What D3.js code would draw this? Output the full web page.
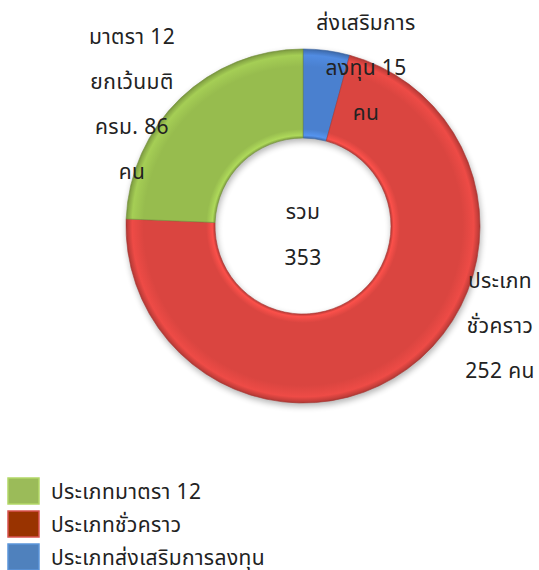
<!DOCTYPE html>
<html>
<head>
<meta charset="utf-8">
<script src="https://cdn.jsdelivr.net/npm/d3@7"></script>
<style>
  body { margin: 0; background: #fff; }
  text { font-family: Tahoma, "Noto Sans Thai", "Noto Sans", sans-serif; fill: #222; }
</style>
</head>
<body>
<div id="chart"></div>
<script>
// data
const categories = ["ประเภทส่งเสริมการลงทุน", "ประเภทชั่วคราว", "ประเภทมาตรา 12"];
const values = [15, 252, 86];
const sliceColors = ["#4a80cf", "#da4540", "#97bc4e"];
const legendNames = ["ประเภทมาตรา 12", "ประเภทชั่วคราว", "ประเภทส่งเสริมการลงทุน"];
const legendColors = ["#9bbb59", "#993300", "#4f81bd"];
const sliceLabels = [
  ["ส่งเสริมการ", "ลงทุน 15", "คน"],
  ["ประเภท", "ชั่วคราว", "252 คน"],
  ["มาตรา 12", "ยกเว้นมติ", "ครม. 86", "คน"]
];
const totalLabel = ["รวม", String(d3.sum(values))];

const width = 539, height = 570;
const cx = 303, cy = 226;
const outerR = 177, innerR = 88;

const svg = d3.select("#chart").append("svg")
  .attr("width", width)
  .attr("height", height);

const defs = svg.append("defs");

// soft shadow
const shadow = defs.append("filter").attr("id", "shadow")
  .attr("x", "-20%").attr("y", "-20%").attr("width", "140%").attr("height", "140%")
  .attr("color-interpolation-filters", "sRGB");
shadow.append("feGaussianBlur").attr("in", "SourceAlpha").attr("stdDeviation", 3);
shadow.append("feOffset").attr("dx", 1).attr("dy", 3).attr("result", "off");
shadow.append("feComponentTransfer").append("feFuncA").attr("type", "linear").attr("slope", 0.3);
const merge = shadow.append("feMerge");
merge.append("feMergeNode");
merge.append("feMergeNode").attr("in", "SourceGraphic");

// bevel-ish ring shading (gradient in the donut group's own coordinates)
sliceColors.forEach((c, i) => {
  const base = d3.color(c);
  const g = defs.append("radialGradient")
    .attr("id", "grad" + i)
    .attr("gradientUnits", "userSpaceOnUse")
    .attr("cx", 0).attr("cy", 0).attr("r", outerR);
  const f = innerR / outerR;
  [[f, base.darker(0.5)], [f + 0.015, base.brighter(0.4)], [f + 0.05, base],
   [0.9, base], [0.965, base.brighter(0.25)], [0.99, base.darker(0.3)], [1, base.darker(0.7)]]
    .forEach(([o, col]) => g.append("stop").attr("offset", o).attr("stop-color", col));
});

const pie = d3.pie().sort(null).value(d => d);
const arcs = pie(values);
const arc = d3.arc().innerRadius(innerR).outerRadius(outerR);

const donut = svg.append("g")
  .attr("transform", `translate(${cx},${cy})`)
  .attr("filter", "url(#shadow)");

donut.selectAll("path")
  .data(arcs)
  .join("path")
  .attr("d", arc)
  .attr("fill", (d, i) => `url(#grad${i})`)
  .attr("stroke", (d, i) => d3.color(sliceColors[i]).darker(0.7))
  .attr("stroke-width", 0.6);

// slice labels
const labelPos = [
  {x: 366, y: 30},
  {x: 500, y: 288},
  {x: 132, y: 44}
];
const lineGap = 45;
const labelStyle = sel => sel
  .attr("text-anchor", "middle")
  .style("font-size", "21px")
  .style("letter-spacing", "0.4px");

sliceLabels.forEach((lines, i) => {
  lines.forEach((t, j) => {
    svg.append("text")
      .attr("x", labelPos[i].x)
      .attr("y", labelPos[i].y + j * lineGap)
      .call(labelStyle)
      .text(t);
  });
});

// total in the hole
totalLabel.forEach((t, j) => {
  svg.append("text")
    .attr("x", cx)
    .attr("y", 219 + j * 46)
    .call(labelStyle)
    .text(t);
});

// legend
const legend = svg.append("g").attr("transform", "translate(8,478)");
legendNames.forEach((name, i) => {
  const row = legend.append("g").attr("transform", `translate(0,${i * 33})`);
  row.append("rect")
    .attr("width", 31)
    .attr("height", 26)
    .attr("fill", legendColors[i])
    .attr("stroke", i === 1 ? "#d9534f" : d3.color(legendColors[i]).brighter(0.4))
    .attr("stroke-width", 1.5);
  row.append("text")
    .attr("x", 43)
    .attr("y", 21)
    .style("font-size", "21px")
    .style("letter-spacing", "0.4px")
    .text(name);
});
</script>
</body>
</html>
